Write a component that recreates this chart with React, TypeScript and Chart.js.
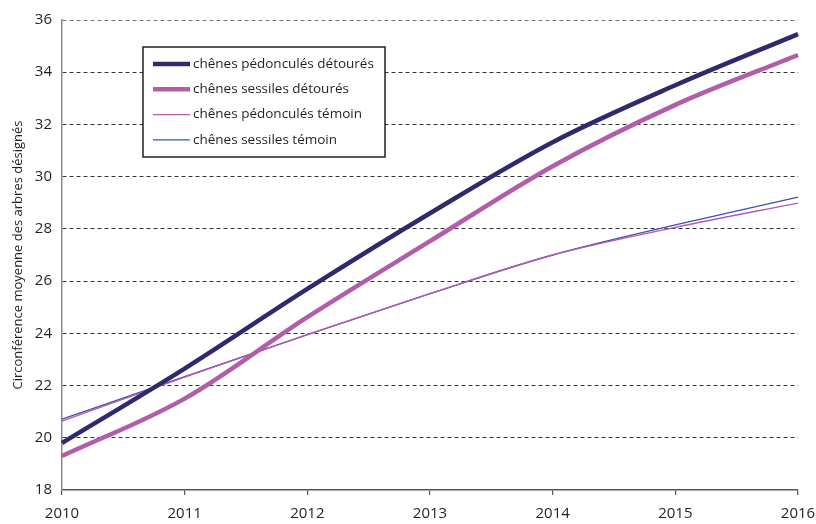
import React, { useEffect, useRef } from "react";
import { Chart, registerables } from "chart.js";

Chart.register(...registerables);

const years = ["2010", "2011", "2012", "2013", "2014", "2015", "2016"];
const pedonculesDetoures = [19.8, 22.65, 25.7, 28.6, 31.32, 33.5, 35.46];
const sessilesDetoures = [19.3, 21.5, 24.62, 27.53, 30.4, 32.75, 34.66];
const pedonculesTemoin = [20.64, 22.32, 23.95, 25.52, 27.0, 28.06, 28.99];
const sessilesTemoin = [20.71, 22.34, 23.95, 25.52, 27.0, 28.15, 29.22];
const seriesLabels = [
  "chênes pédonculés détourés",
  "chênes sessiles détourés",
  "chênes pédonculés témoin",
  "chênes sessiles témoin",
];
const yTitle = "Circonférence moyenne des arbres désignés";

const FONT = "'Open Sans', 'Noto Sans', sans-serif";

const legendPlugin = {
  id: "insideLegend",
  afterDraw(chart: any) {
    const { ctx, chartArea } = chart;
    const x0 = chartArea.left + 81;
    const y0 = chartArea.top + 27;
    const w = 242;
    const h = 110;
    ctx.save();
    ctx.fillStyle = "#fff";
    ctx.fillRect(x0, y0, w, h);
    ctx.strokeStyle = "#222";
    ctx.lineWidth = 1.5;
    ctx.strokeRect(x0, y0, w, h);
    ctx.font = `13.5px ${FONT}`;
    ctx.textBaseline = "middle";
    ctx.fillStyle = "#231f20";
    chart.data.datasets.forEach((ds: any, i: number) => {
      const y = y0 + 17 + i * 25.3;
      ctx.strokeStyle = ds.borderColor;
      ctx.lineWidth = ds.borderWidth;
      ctx.beginPath();
      ctx.moveTo(x0 + 10, y);
      ctx.lineTo(x0 + 47, y);
      ctx.stroke();
      ctx.fillText(ds.label, x0 + 50, y);
    });
    ctx.restore();
  },
};

export default function App() {
  const ref = useRef<HTMLCanvasElement>(null);
  useEffect(() => {
    if (!ref.current) return;
    const mk = (label: string, data: number[], color: string, width: number) => ({
      label,
      data,
      borderColor: color,
      backgroundColor: color,
      borderWidth: width,
      pointRadius: 0,
      tension: 0.4,
      cubicInterpolationMode: "monotone" as const,
      fill: false,
    });
    const chart = new Chart(ref.current, {
      type: "line",
      data: {
        labels: years,
        datasets: [
          mk(seriesLabels[0], pedonculesDetoures, "#2f2a6d", 4.5),
          mk(seriesLabels[1], sessilesDetoures, "#b15daa", 4.5),
          mk(seriesLabels[2], pedonculesTemoin, "#b45aaf", 1.3),
          mk(seriesLabels[3], sessilesTemoin, "#3a52b0", 1.3),
        ],
      },
      plugins: [legendPlugin],
      options: {
        animation: false,
        responsive: false,
        maintainAspectRatio: false,
        devicePixelRatio: 1,
        layout: { padding: { top: 20, right: 18, left: 0, bottom: 0 } },
        plugins: { legend: { display: false }, tooltip: { enabled: false } },
        scales: {
          x: {
            type: "category",
            offset: false,
            grid: {
              drawOnChartArea: false,
              drawTicks: true,
              tickLength: 5,
              color: "#555",
              lineWidth: 1.2,
            },
            border: { display: true, color: "#555", width: 1.5 },
            ticks: {
              padding: 10,
              color: "#231f20",
              font: { family: FONT, size: 15 },
              maxRotation: 0,
            },
            afterFit(scale: any) {
              scale.height = 34;
              scale.paddingRight = 0;
              scale.paddingLeft = 0;
            },
          },
          y: {
            min: 18,
            max: 36,
            ticks: {
              stepSize: 2,
              padding: 10,
              color: "#231f20",
              font: { family: FONT, size: 15 },
            },
            grid: {
              drawTicks: false,
              color: (c: any) =>
                c.tick && c.tick.value === 18 ? "rgba(0,0,0,0)" : c.tick && c.tick.value === 36 ? "#777" : "#333",
              lineWidth: 1,
            },
            border: { display: true, color: "#8a8a8a", width: 1.5, dash: [4, 3] },
            title: {
              display: true,
              text: yTitle,
              color: "#231f20",
              font: { family: FONT, size: 13 },
              padding: { top: 10, bottom: 0 },
            },
            afterFit(scale: any) {
              scale.width = 62;
              scale.paddingTop = 0;
              scale.paddingBottom = 0;
            },
          },
        },
      },
    });
    return () => chart.destroy();
  }, []);
  return (
    <div style={{ position: "fixed", left: 0, top: 0, width: 816, height: 524, background: "#fff" }}>
      <canvas ref={ref} width={816} height={524} style={{ width: 816, height: 524 }} />
    </div>
  );
}
